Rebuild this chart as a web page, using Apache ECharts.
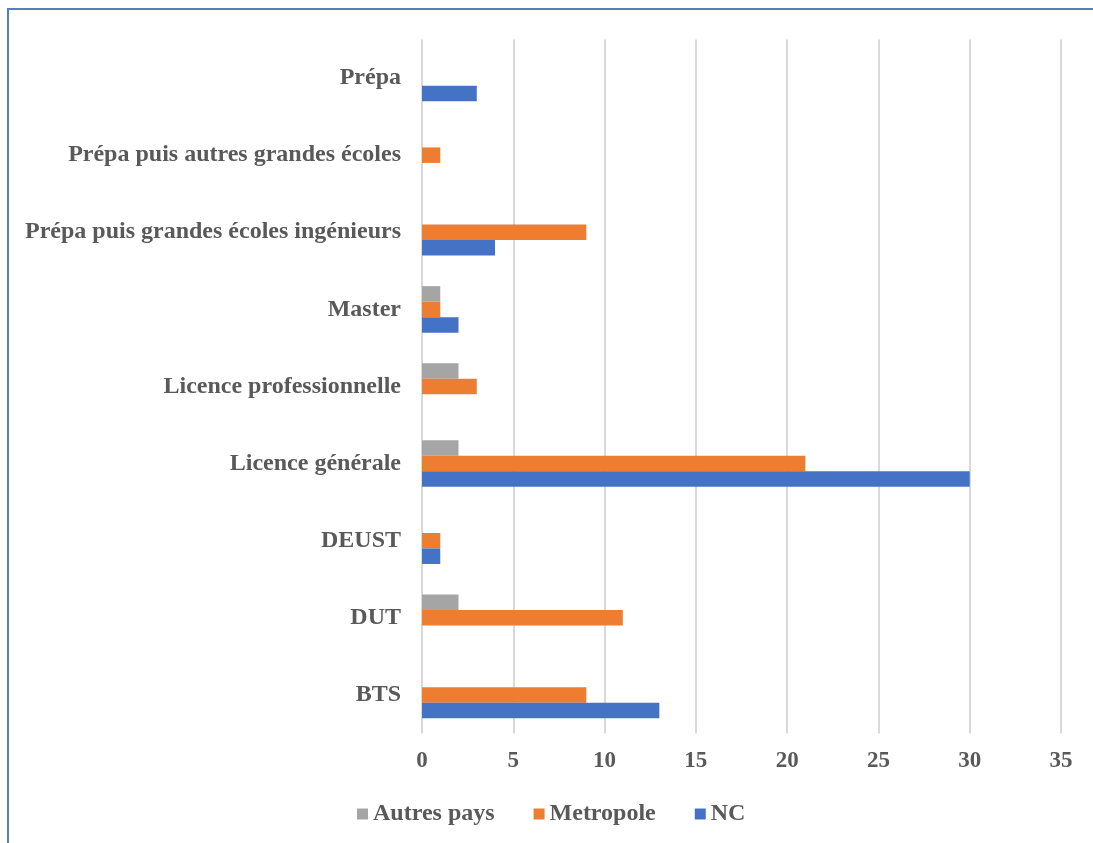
<!DOCTYPE html>
<html><head><meta charset="utf-8">
<script src="https://cdn.jsdelivr.net/npm/echarts@6/dist/echarts.min.js"></script>
<style>html,body{margin:0;padding:0;background:#fff}#c{width:1093px;height:843px}</style>
</head><body><div id="c"></div>
<script>
const categories = ['BTS','DUT','DEUST','Licence générale','Licence professionnelle','Master','Prépa puis grandes écoles ingénieurs','Prépa puis autres grandes écoles','Prépa'];
const autresPays = [0,2,0,2,2,1,0,0,0];
const metropole = [9,11,1,21,3,1,9,1,0];
const nc = [13,0,1,30,0,2,4,0,3];
const xTicks = {min:0,max:35,interval:5};

const font = '"Liberation Serif","Times New Roman",serif';
const chart = echarts.init(document.getElementById('c'));
function s(name, data, color){
  return {name, type:'bar', data, itemStyle:{color}, barGap:'0%', barCategoryGap:'40%', barWidth:15.5};
}
chart.setOption({
  animation:false,
  graphic:[{type:'rect', shape:{x:8,y:9,width:1200,height:1000}, style:{fill:'none', stroke:'#4f81bd', lineWidth:2}}],
  grid:{left:422, right:32, top:39.5, bottom:109.5, containLabel:false},
  legend:{data:['Autres pays','Metropole','NC'], top:797, left:352, itemWidth:11, itemHeight:11, itemGap:39, icon:'rect',
    textStyle:{fontFamily:font, fontWeight:'bold', fontSize:24, color:'#595959'}},
  xAxis:{type:'value', min:xTicks.min, max:xTicks.max, interval:xTicks.interval,
    axisLine:{show:false}, axisTick:{show:false},
    splitLine:{lineStyle:{color:'#d9d9d9', width:2}},
    axisLabel:{fontFamily:font, fontWeight:'bold', fontSize:23, color:'#595959', margin:16}},
  yAxis:{type:'category', data:categories, axisLine:{show:false}, axisTick:{show:false},
    axisLabel:{fontFamily:font, fontWeight:'bold', fontSize:24, color:'#595959', margin:21}},
  series:[s('Autres pays', autresPays, '#a5a5a5'), s('Metropole', metropole, '#ed7d31'), s('NC', nc, '#4472c4')]
});
</script></body></html>
